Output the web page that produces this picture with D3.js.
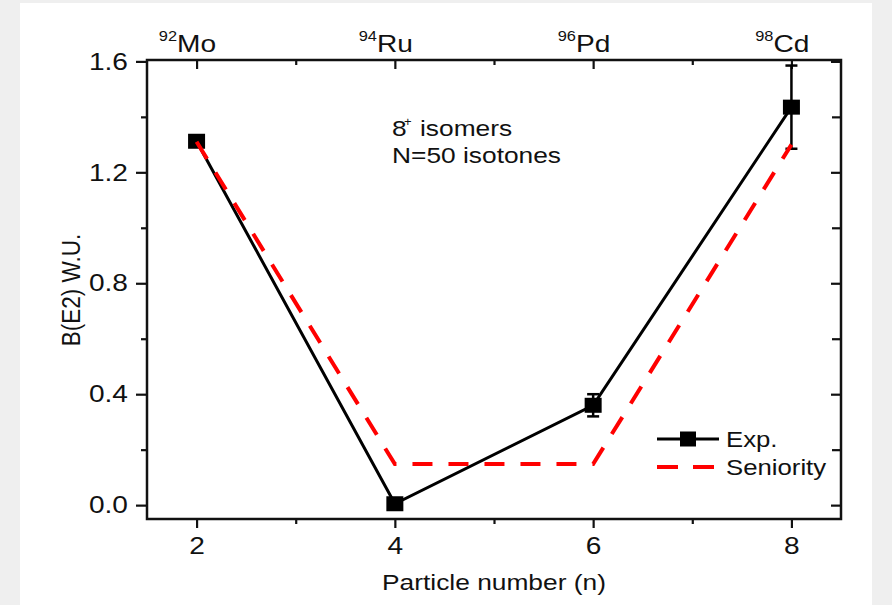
<!DOCTYPE html>
<html lang="en">
<head>
  <meta charset="UTF-8" />
  <title>B(E2) 8+ isomers, N=50 isotones</title>
  <script src="https://d3js.org/d3.v7.min.js"></script>
  <style>
    body { margin: 0; background: #efefef; }
    svg { display: block; }
    text { font-family: "Liberation Sans", Arial, sans-serif; fill: #111; }
  </style>
</head>
<body>
  <svg id="chart" width="892" height="605"></svg>

  <script>
    // data
    const particles = [2, 4, 6, 8];
    const isotopes = [["92", "Mo"], ["94", "Ru"], ["96", "Pd"], ["98", "Cd"]];
    const expValues = [1.312, 0.005, 0.36, 1.435];
    const expErrors = [0, 0, 0.04, 0.15];
    const seniority = [1.31, 0.148, 0.148, 1.30];
    const yTicks = [0.0, 0.4, 0.8, 1.2, 1.6];
    const yMinor = [0.2, 0.6, 1.0, 1.4];
    const xMinor = [3, 5, 7];

    const svg = d3.select("#chart");
    const K = 1.17; // the picture is stretched sideways a bit

    // stretch text horizontally like the original
    function widen(sel, k = K) {
      sel.each(function () {
        const len = this.getComputedTextLength();
        this.setAttribute("textLength", len * k);
        this.setAttribute("lengthAdjust", "spacingAndGlyphs");
      });
    }

    // white panel on the grey page
    svg.append("rect").attr("x", 20).attr("y", 3).attr("width", 852).attr("height", 602).attr("fill", "#fff");

    const m = { left: 147, right: 841, top: 60, bottom: 519 };
    const x = d3.scaleLinear().domain([1.5, 8.5]).range([m.left, m.right]);
    const y = d3.scaleLinear().domain([-0.05, 1.605]).range([m.bottom, m.top]);

    const g = svg.append("g");

    // axes
    const styleAxis = (a) => {
      a.select(".domain").remove();
      a.selectAll("line").attr("stroke", "#111").attr("stroke-width", 2.2);
      a.selectAll("text").attr("font-size", 24).attr("fill", "#111").style("font-family", "Liberation Sans, Arial, sans-serif");
    };

    const axLeft = g.append("g").attr("transform", `translate(${m.left},0)`)
      .call(d3.axisLeft(y).tickValues(yTicks).tickFormat(d3.format(".1f")).tickSize(11).tickPadding(8).tickSizeOuter(0));
    styleAxis(axLeft);
    widen(axLeft.selectAll("text"));

    const axLeftMinor = g.append("g").attr("transform", `translate(${m.left},0)`)
      .call(d3.axisLeft(y).tickValues(yMinor).tickFormat("").tickSize(6).tickSizeOuter(0));
    styleAxis(axLeftMinor);

    const axBottom = g.append("g").attr("transform", `translate(0,${m.bottom})`)
      .call(d3.axisBottom(x).tickValues(particles).tickFormat(d3.format("d")).tickSize(9).tickPadding(9).tickSizeOuter(0));
    styleAxis(axBottom);
    widen(axBottom.selectAll("text"));

    const axBottomMinor = g.append("g").attr("transform", `translate(0,${m.bottom})`)
      .call(d3.axisBottom(x).tickValues(xMinor).tickFormat("").tickSize(5).tickSizeOuter(0));
    styleAxis(axBottomMinor);

    // top and right: ticks pointing inward, no labels
    const axTop = g.append("g").attr("transform", `translate(0,${m.top})`)
      .call(d3.axisBottom(x).tickValues(particles).tickFormat("").tickSize(9).tickSizeOuter(0));
    styleAxis(axTop);
    const axTopMinor = g.append("g").attr("transform", `translate(0,${m.top})`)
      .call(d3.axisBottom(x).tickValues(xMinor).tickFormat("").tickSize(5).tickSizeOuter(0));
    styleAxis(axTopMinor);

    const axRight = g.append("g").attr("transform", `translate(${m.right},0)`)
      .call(d3.axisLeft(y).tickValues(yTicks).tickFormat("").tickSize(10).tickSizeOuter(0));
    styleAxis(axRight);
    const axRightMinor = g.append("g").attr("transform", `translate(${m.right},0)`)
      .call(d3.axisLeft(y).tickValues(yMinor).tickFormat("").tickSize(9).tickSizeOuter(0));
    styleAxis(axRightMinor);

    // frame
    g.append("rect")
      .attr("x", m.left).attr("y", m.top)
      .attr("width", m.right - m.left).attr("height", m.bottom - m.top)
      .attr("fill", "none").attr("stroke", "#111").attr("stroke-width", 2.5);

    // isotope names along the top
    isotopes.forEach(([mass, sym], i) => {
      const t = g.append("text")
        .attr("x", x(particles[i])).attr("y", 52)
        .attr("text-anchor", "middle").attr("font-size", 24)
        .text(sym);
      widen(t);
      const bb = t.node().getBBox();
      const s = g.append("text")
        .attr("x", bb.x).attr("y", 41)
        .attr("text-anchor", "end").attr("font-size", 14)
        .text(mass);
      widen(s);
    });

    // axis titles
    const xt = g.append("text")
      .attr("x", (m.left + m.right) / 2).attr("y", 590)
      .attr("text-anchor", "middle").attr("font-size", 22.5)
      .text("Particle number (n)");
    widen(xt);

    g.append("text")
      .attr("transform", `translate(80,290) scale(${K},1) rotate(-90)`)
      .attr("text-anchor", "middle").attr("font-size", 22.5)
      .text("B(E2) W.U.");

    // experimental line, error bars and markers
    const expPts = particles.map((p, i) => ({ x: p, y: expValues[i], e: expErrors[i] }));
    const line = d3.line().x(d => x(d.x)).y(d => y(d.y));

    g.append("path").datum(expPts)
      .attr("d", line).attr("fill", "none")
      .attr("stroke", "#000").attr("stroke-width", 3);

    const errs = g.append("g").selectAll("g").data(expPts.filter(d => d.e > 0)).join("g");
    errs.append("line")
      .attr("x1", d => x(d.x)).attr("x2", d => x(d.x))
      .attr("y1", d => y(d.y + d.e)).attr("y2", d => y(d.y - d.e))
      .attr("stroke", "#000").attr("stroke-width", 2.5);
    [1, -1].forEach(sgn => {
      errs.append("line")
        .attr("x1", d => x(d.x) - 6).attr("x2", d => x(d.x) + 6)
        .attr("y1", d => y(d.y + sgn * d.e)).attr("y2", d => y(d.y + sgn * d.e))
        .attr("stroke", "#000").attr("stroke-width", 2.5);
    });

    g.append("g").selectAll("rect").data(expPts).join("rect")
      .attr("x", d => x(d.x) - 8.5).attr("y", d => y(d.y) - 7.5)
      .attr("width", 17).attr("height", 15).attr("fill", "#000");

    // seniority prediction
    const senPts = particles.map((p, i) => ({ x: p, y: seniority[i] }));
    g.append("path").datum(senPts)
      .attr("d", line).attr("fill", "none")
      .attr("stroke", "#ff0000").attr("stroke-width", 4)
      .attr("stroke-dasharray", "20,16");

    // annotation
    const a1 = g.append("text").attr("x", 392).attr("y", 136).attr("font-size", 22.5).text("8");
    widen(a1);
    g.append("text").attr("x", 404).attr("y", 126).attr("font-size", 13).text("+");
    const a2 = g.append("text").attr("x", 420).attr("y", 136).attr("font-size", 22.5).text("isomers");
    widen(a2);
    const a3 = g.append("text").attr("x", 392).attr("y", 163).attr("font-size", 22.5).text("N=50 isotones");
    widen(a3);

    // legend
    const lg = g.append("g");
    lg.append("line").attr("x1", 657).attr("x2", 719).attr("y1", 439).attr("y2", 439)
      .attr("stroke", "#000").attr("stroke-width", 3);
    lg.append("rect").attr("x", 680).attr("y", 431.5).attr("width", 16).attr("height", 15).attr("fill", "#000");
    lg.append("line").attr("x1", 657).attr("x2", 719).attr("y1", 467).attr("y2", 467)
      .attr("stroke", "#ff0000").attr("stroke-width", 4).attr("stroke-dasharray", "21,15");
    const l1 = lg.append("text").attr("x", 726).attr("y", 447).attr("font-size", 22).text("Exp.");
    widen(l1);
    const l2 = lg.append("text").attr("x", 726).attr("y", 475).attr("font-size", 22).text("Seniority");
    widen(l2);
  </script>
</body>
</html>
